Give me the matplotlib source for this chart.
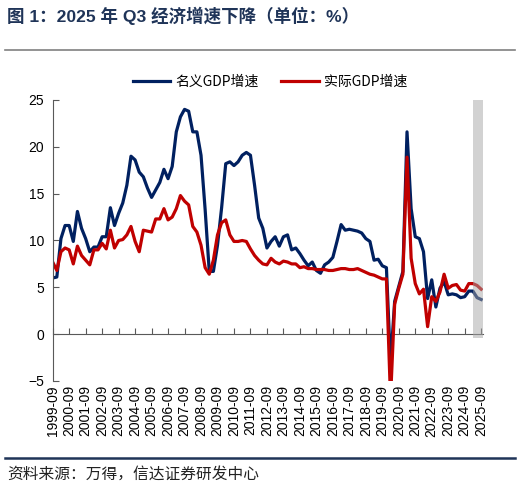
import numpy as np
import pandas as pd
import matplotlib
matplotlib.use('Agg')
import matplotlib.pyplot as plt
from matplotlib.lines import Line2D

plt.rcParams['font.family'] = ['Liberation Sans', 'Noto Sans CJK SC', 'DejaVu Sans']

# quarterly data, 1999Q3 .. 2025Q3 (single-quarter yoy, %)
quarters = pd.period_range('1999Q3', '2025Q3', freq='Q')
nominal_gdp = [
    6.0, 6.1, 10.2, 11.6, 11.6, 9.9, 13.1, 11.3, 10.2, 8.8,
    9.3, 9.3, 10.4, 10.4, 13.5, 11.6, 12.9, 14.0, 15.9, 19.0,
    18.6, 17.3, 16.8, 15.6, 14.6, 15.4, 16.2, 17.6, 16.6, 17.9,
    21.6, 23.2, 24.0, 23.8, 21.6, 21.6, 19.1, 13.3, 6.7, 6.7,
    9.5, 13.5, 18.2, 18.4, 18.0, 18.4, 19.1, 19.4, 19.1, 15.9,
    12.4, 11.3, 9.2, 9.9, 10.4, 9.4, 10.4, 10.6, 9.0, 9.2,
    8.6, 7.9, 7.3, 7.7, 6.8, 6.5, 7.4, 7.7, 8.2, 9.9,
    11.7, 11.1, 11.2, 11.1, 11.0, 10.8, 10.2, 9.9, 7.9, 8.0,
    7.3, 7.1, -3.2, 3.5, 5.1, 6.7, 21.6, 13.4, 10.4, 10.2,
    8.8, 3.8, 5.8, 2.9, 4.9, 5.6, 4.2, 4.3, 4.2, 3.9,
    4.0, 4.6, 4.6, 3.9, 3.7,
]
real_gdp = [
    7.7, 6.8, 8.8, 9.2, 9.0, 7.5, 9.4, 8.4, 7.9, 7.4,
    9.0, 9.0, 9.7, 9.1, 11.1, 9.2, 10.0, 10.1, 10.6, 11.5,
    9.9, 8.8, 11.1, 11.0, 10.9, 12.3, 12.3, 13.4, 12.2, 12.5,
    13.4, 14.8, 14.2, 13.8, 11.5, 10.9, 9.5, 7.1, 6.4, 7.9,
    10.6, 11.9, 12.2, 10.6, 9.9, 9.9, 10.0, 9.9, 9.1, 8.4,
    7.9, 7.5, 7.4, 8.1, 7.7, 7.5, 7.8, 7.7, 7.5, 7.5,
    7.1, 7.2, 7.0, 7.0, 6.9, 6.9, 6.9, 6.8, 6.8, 6.9,
    7.0, 7.0, 6.9, 6.9, 7.0, 6.8, 6.6, 6.4, 6.3, 6.1,
    5.9, 5.9, -6.9, 3.2, 4.9, 6.4, 18.9, 8.1, 5.4, 4.3,
    4.8, 0.8, 4.0, 3.5, 4.5, 6.4, 4.9, 5.2, 5.3, 4.7,
    4.6, 5.4, 5.4, 5.2, 4.8,
]
tick_labels = [f"{q.year}-09" for q in quarters if q.quarter == 3]
shade_from = pd.Period('2025Q1', freq='Q')

x = np.arange(len(quarters))
tick_pos = [i for i, q in enumerate(quarters) if q.quarter == 3]
shade_x0 = list(quarters).index(shade_from)

navy = '#002060'
red = '#c00000'
grey = '#595959'

fig = plt.figure(figsize=(5.2, 4.88), dpi=100)
ax = fig.add_axes([52.7 / 520, 1 - 381 / 488, 430 / 520, 281 / 488])

ax.plot(x, nominal_gdp, color=navy, lw=2.3, label='名义GDP增速', zorder=2)
ax.plot(x, real_gdp, color=red, lw=2.3, label='实际GDP增速', zorder=2)
# shaded band for the latest quarters
ax.fill_between([shade_x0, x[-1] + 0.4], -0.4, 25, color='#a6a6a6', alpha=0.5,
                lw=0, zorder=3)

ax.set_xlim(0, x[-1] + 0.37)
ax.set_ylim(-5, 25)
ax.set_yticks([-5, 0, 5, 10, 15, 20, 25])
ax.set_yticklabels(['\u22125', '0', '5', '10', '15', '20', '25'])

for s in ['top', 'right', 'bottom']:
    ax.spines[s].set_visible(False)
ax.spines['left'].set_color(grey)
ax.spines['left'].set_linewidth(0.8)
ax.tick_params(axis='y', direction='in', length=4, width=0.8, color=grey,
               labelsize=10, pad=6)

ax.set_xticks(tick_pos)
ax.set_xticklabels(tick_labels, rotation=90, fontsize=10)
ax.tick_params(axis='x', length=0, pad=3)

# zero line with the year ticks on it
zero_loc = (0 - (-5)) / 30
sec = ax.secondary_xaxis(zero_loc)
sec.set_xticks(tick_pos)
sec.set_xticklabels([])
sec.tick_params(direction='in', length=4, width=0.8, color=grey)
sec.spines['bottom'].set_color(grey)
sec.spines['bottom'].set_linewidth(0.8)

handles = [Line2D([], [], color=navy, lw=2.3), Line2D([], [], color=red, lw=2.3)]
fig.legend(handles, ['名义GDP增速', '实际GDP增速'], loc='center',
           bbox_to_anchor=(270 / 520, 1 - 82 / 488), ncol=2, frameon=False,
           handlelength=2.7, columnspacing=1.6, handletextpad=0.4,
           prop={'family': ['Noto Sans CJK SC'], 'size': 10})

fig.text(7 / 520, 1 - 16 / 488, '图 1：2025 年 Q3 经济增速下降（单位：%）',
         fontsize=12.6, fontweight='bold', color='#1f3458', va='center',
         family=['Liberation Sans', 'Noto Sans CJK SC'])
fig.add_artist(Line2D([5 / 520, 515 / 520], [1 - 50 / 488] * 2, color='#808080', lw=1.2))
fig.add_artist(Line2D([5 / 520, 515 / 520], [1 - 458 / 488] * 2, color='#1f3458', lw=1.8))
fig.text(7 / 520, 1 - 474 / 488, '资料来源：万得，信达证券研发中心', fontsize=11.3,
         color='#222222', va='center', family=['Noto Sans CJK SC'])

fig.savefig('out.png', dpi=100)
